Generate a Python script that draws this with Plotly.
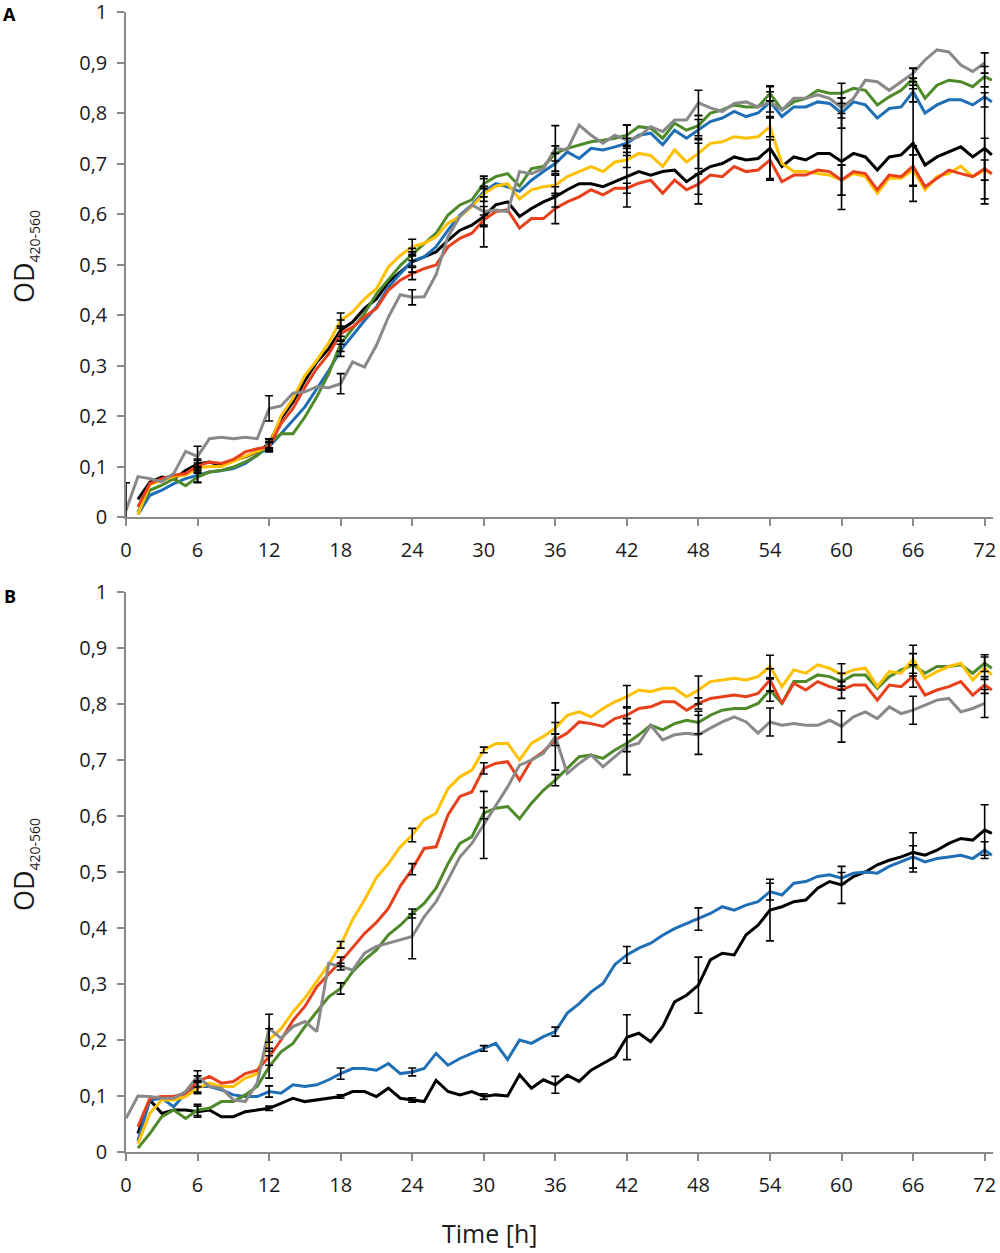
import plotly.graph_objects as go

# time grid (h); the gray series starts at 0 and stops at 72
HOURS = list(range(1, 73)) + [72.6]
GRAY_HOURS = list(range(0, 73))
ERR_HOURS = [0, 6, 12, 18, 24, 30, 36, 42, 48, 54, 60, 66, 72]

# ---- panel A ----
A_BLACK = [0.035, 0.069, 0.079, 0.075, 0.092, 0.105, 0.109, 0.102, 0.112, 0.119, 0.129, 0.145,
           0.195, 0.228, 0.27, 0.307, 0.333, 0.37, 0.386, 0.413, 0.432, 0.465, 0.485, 0.505,
           0.515, 0.525, 0.548, 0.568, 0.578, 0.595, 0.618, 0.624, 0.595, 0.611, 0.624, 0.634,
           0.648, 0.66, 0.66, 0.654, 0.664, 0.674, 0.684, 0.677, 0.684, 0.687, 0.664, 0.68,
           0.694, 0.70, 0.713, 0.707, 0.71, 0.73, 0.694, 0.713, 0.707, 0.72, 0.72, 0.704,
           0.72, 0.713, 0.687, 0.713, 0.717, 0.74, 0.697, 0.713, 0.723, 0.733, 0.713, 0.73, 0.717]
A_BLUE = [0.005, 0.043, 0.053, 0.066, 0.076, 0.083, 0.089, 0.092, 0.096, 0.106, 0.122, 0.139,
          0.165, 0.191, 0.218, 0.254, 0.29, 0.33, 0.36, 0.389, 0.416, 0.455, 0.482, 0.507,
          0.515, 0.535, 0.568, 0.598, 0.618, 0.644, 0.66, 0.654, 0.645, 0.667, 0.684, 0.70,
          0.723, 0.71, 0.73, 0.727, 0.733, 0.74, 0.756, 0.76, 0.737, 0.766, 0.75, 0.767,
          0.783, 0.79, 0.803, 0.793, 0.80, 0.822, 0.793, 0.812, 0.812, 0.822, 0.819, 0.80,
          0.822, 0.816, 0.79, 0.809, 0.812, 0.842, 0.80, 0.816, 0.826, 0.826, 0.816, 0.832, 0.822]
A_GREEN = [0.01, 0.053, 0.063, 0.076, 0.062, 0.079, 0.089, 0.092, 0.099, 0.109, 0.122, 0.145,
           0.165, 0.165, 0.198, 0.238, 0.284, 0.343, 0.373, 0.403, 0.442, 0.469, 0.498, 0.52,
           0.542, 0.562, 0.598, 0.618, 0.628, 0.66, 0.674, 0.68, 0.655, 0.69, 0.694, 0.72,
           0.73, 0.737, 0.743, 0.746, 0.75, 0.756, 0.773, 0.77, 0.75, 0.78, 0.766, 0.775,
           0.80, 0.806, 0.816, 0.812, 0.812, 0.839, 0.806, 0.822, 0.829, 0.845, 0.839, 0.839,
           0.849, 0.845, 0.816, 0.832, 0.845, 0.868, 0.829, 0.855, 0.865, 0.862, 0.852, 0.872, 0.865]
A_YELLOW = [0.005, 0.065, 0.072, 0.08, 0.083, 0.097, 0.1, 0.1, 0.11, 0.12, 0.13, 0.14,
            0.2, 0.235, 0.28, 0.31, 0.345, 0.389, 0.406, 0.432, 0.452, 0.495, 0.518, 0.535,
            0.542, 0.555, 0.582, 0.595, 0.615, 0.64, 0.655, 0.66, 0.63, 0.648, 0.654, 0.657,
            0.674, 0.684, 0.694, 0.684, 0.703, 0.707, 0.72, 0.716, 0.694, 0.727, 0.703, 0.72,
            0.74, 0.743, 0.753, 0.75, 0.753, 0.773, 0.70, 0.684, 0.684, 0.68, 0.677, 0.667,
            0.68, 0.674, 0.641, 0.671, 0.671, 0.687, 0.648, 0.674, 0.68, 0.695, 0.674, 0.687, 0.68]
A_RED = [0.02, 0.066, 0.076, 0.083, 0.086, 0.102, 0.109, 0.106, 0.114, 0.129, 0.135, 0.139,
         0.185, 0.215, 0.257, 0.294, 0.323, 0.363, 0.376, 0.396, 0.413, 0.449, 0.469, 0.482,
         0.492, 0.499, 0.535, 0.552, 0.562, 0.588, 0.605, 0.608, 0.572, 0.591, 0.591, 0.611,
         0.624, 0.634, 0.648, 0.638, 0.651, 0.651, 0.661, 0.667, 0.641, 0.667, 0.648, 0.659,
         0.677, 0.674, 0.694, 0.684, 0.687, 0.707, 0.664, 0.677, 0.677, 0.687, 0.684, 0.667,
         0.684, 0.68, 0.648, 0.677, 0.674, 0.695, 0.654, 0.671, 0.687, 0.68, 0.674, 0.69, 0.68]
A_GRAY = [0.013, 0.08, 0.076, 0.07, 0.086, 0.13, 0.12, 0.155, 0.158, 0.155, 0.158, 0.155,
          0.215, 0.22, 0.245, 0.248, 0.258, 0.256, 0.264, 0.307, 0.297, 0.34, 0.396, 0.44,
          0.435, 0.436, 0.48, 0.555, 0.595, 0.618, 0.605, 0.608, 0.605, 0.684, 0.68, 0.69,
          0.73, 0.727, 0.776, 0.756, 0.74, 0.756, 0.746, 0.753, 0.773, 0.763, 0.786, 0.786,
          0.82, 0.81, 0.803, 0.819, 0.822, 0.812, 0.822, 0.806, 0.829, 0.829, 0.836, 0.829,
          0.81, 0.829, 0.865, 0.862, 0.845, 0.862, 0.879, 0.905, 0.925, 0.921, 0.895, 0.882, 0.899]

A_BLACK_ERR = [None, 0.01, 0.008, 0.02, 0.02, 0.02, 0.02, 0.06, 0.06, 0.06, 0.095, 0.115, 0.11]
A_BLUE_ERR = [None, 0.015, 0.008, 0.012, 0.01, 0.01, 0.02, 0.01, 0.02, 0.02, 0.03, 0.02, 0.02]
A_GREEN_ERR = [None, 0.01, 0.01, 0.015, 0.012, 0.01, 0.015, 0.02, 0.02, 0.015, 0.02, 0.02, 0.02]
A_YELLOW_ERR = [None, 0.01, 0.008, 0.015, 0.015, 0.015, 0.02, 0.015, 0.03, 0.02, 0.03, 0.03, 0.02]
A_RED_ERR = [None, 0.01, 0.01, 0.015, 0.012, 0.01, 0.03, 0.01, 0.02, 0.04, 0.03, 0.04, 0.06]
A_GRAY_ERR = [0.055, 0.02, 0.025, 0.02, 0.015, 0.07, 0.045, 0.03, 0.025, 0.03, 0.02, 0.01, 0.02]

# ---- panel B ----
B_BLACK = [0.033, 0.093, 0.069, 0.075, 0.075, 0.072, 0.075, 0.063, 0.063, 0.072, 0.075, 0.078,
           0.087, 0.096, 0.09, 0.093, 0.096, 0.099, 0.108, 0.108, 0.099, 0.114, 0.096, 0.093,
           0.09, 0.128, 0.108, 0.102, 0.108, 0.099, 0.102, 0.1, 0.138, 0.114, 0.129, 0.12,
           0.137, 0.126, 0.146, 0.158, 0.17, 0.205, 0.212, 0.197, 0.224, 0.268, 0.28, 0.298,
           0.343, 0.355, 0.352, 0.388, 0.405, 0.432, 0.438, 0.447, 0.45, 0.471, 0.483, 0.477,
           0.492, 0.5, 0.513, 0.521, 0.527, 0.535, 0.53, 0.539, 0.551, 0.56, 0.557, 0.575, 0.569]
B_BLUE = [0.02, 0.093, 0.096, 0.081, 0.105, 0.117, 0.117, 0.111, 0.102, 0.099, 0.099, 0.108,
          0.105, 0.12, 0.117, 0.12, 0.129, 0.14, 0.149, 0.149, 0.146, 0.158, 0.14, 0.143,
          0.149, 0.176, 0.155, 0.167, 0.176, 0.185, 0.194, 0.165, 0.2, 0.194, 0.206, 0.215,
          0.248, 0.265, 0.286, 0.301, 0.335, 0.352, 0.364, 0.373, 0.387, 0.399, 0.408, 0.416,
          0.426, 0.438, 0.432, 0.441, 0.447, 0.465, 0.459, 0.48, 0.483, 0.492, 0.495, 0.489,
          0.498, 0.5, 0.498, 0.51, 0.518, 0.527, 0.518, 0.524, 0.527, 0.53, 0.524, 0.539, 0.53]
B_GREEN = [0.007, 0.033, 0.063, 0.075, 0.06, 0.075, 0.078, 0.09, 0.09, 0.102, 0.117, 0.152,
           0.179, 0.194, 0.224, 0.251, 0.277, 0.292, 0.322, 0.343, 0.361, 0.388, 0.405, 0.426,
           0.444, 0.471, 0.515, 0.551, 0.563, 0.605, 0.614, 0.617, 0.595, 0.623, 0.646, 0.664,
           0.685, 0.706, 0.709, 0.703, 0.718, 0.73, 0.745, 0.762, 0.754, 0.765, 0.771, 0.767,
           0.78, 0.789, 0.792, 0.792, 0.801, 0.825, 0.801, 0.84, 0.84, 0.852, 0.849, 0.84,
           0.852, 0.852, 0.828, 0.849, 0.861, 0.87, 0.855, 0.867, 0.867, 0.87, 0.855, 0.873, 0.864]
B_YELLOW = [0.015, 0.069, 0.093, 0.093, 0.099, 0.114, 0.123, 0.117, 0.117, 0.132, 0.14, 0.2,
            0.22, 0.25, 0.275, 0.305, 0.335, 0.37, 0.415, 0.45, 0.49, 0.515, 0.545, 0.566,
            0.593, 0.605, 0.649, 0.67, 0.682, 0.718, 0.729, 0.73, 0.70, 0.73, 0.742, 0.757,
            0.78, 0.786, 0.777, 0.792, 0.804, 0.813, 0.825, 0.822, 0.828, 0.828, 0.813, 0.825,
            0.84, 0.843, 0.846, 0.843, 0.849, 0.867, 0.831, 0.861, 0.855, 0.87, 0.864, 0.852,
            0.861, 0.864, 0.831, 0.858, 0.855, 0.88, 0.846, 0.858, 0.867, 0.873, 0.843, 0.864, 0.852]
B_RED = [0.045, 0.096, 0.099, 0.099, 0.105, 0.126, 0.135, 0.123, 0.126, 0.14, 0.146, 0.17,
         0.2, 0.235, 0.26, 0.295, 0.318, 0.34, 0.365, 0.39, 0.41, 0.435, 0.475, 0.505,
         0.542, 0.545, 0.602, 0.635, 0.643, 0.685, 0.694, 0.697, 0.664, 0.70, 0.715, 0.736,
         0.748, 0.768, 0.765, 0.76, 0.774, 0.78, 0.792, 0.795, 0.804, 0.804, 0.789, 0.801,
         0.81, 0.813, 0.816, 0.813, 0.819, 0.843, 0.801, 0.837, 0.825, 0.84, 0.831, 0.825,
         0.834, 0.834, 0.807, 0.834, 0.831, 0.85, 0.816, 0.825, 0.831, 0.84, 0.816, 0.834, 0.825]
B_GRAY = [0.06, 0.1, 0.099, 0.096, 0.096, 0.108, 0.135, 0.117, 0.114, 0.093, 0.09, 0.123,
          0.221, 0.203, 0.224, 0.233, 0.215, 0.337, 0.331, 0.325, 0.355, 0.367, 0.373, 0.379,
          0.385, 0.42, 0.447, 0.486, 0.527, 0.551, 0.584, 0.617, 0.652, 0.691, 0.70, 0.712,
          0.742, 0.676, 0.694, 0.709, 0.688, 0.706, 0.724, 0.73, 0.762, 0.736, 0.745, 0.748,
          0.745, 0.757, 0.768, 0.777, 0.768, 0.748, 0.768, 0.762, 0.765, 0.762, 0.762, 0.771,
          0.76, 0.777, 0.786, 0.774, 0.795, 0.783, 0.789, 0.798, 0.807, 0.81, 0.786, 0.792, 0.801]

B_BLACK_ERR = [None, 0.01, 0.004, 0.003, 0.004, 0.005, 0.015, 0.04, 0.05, 0.055, 0.033, 0.035, 0.045]
B_BLUE_ERR = [None, 0.01, 0.01, 0.01, 0.007, 0.005, 0.008, 0.015, 0.02, 0.015, 0.01, 0.02, 0.015]
B_GREEN_ERR = [None, 0.01, 0.02, 0.01, 0.008, 0.01, 0.01, 0.015, 0.02, 0.02, 0.015, 0.02, 0.015]
B_YELLOW_ERR = [None, 0.01, 0.02, 0.006, 0.012, 0.005, 0.01, 0.02, 0.025, 0.02, 0.02, 0.025, 0.02]
B_RED_ERR = [None, 0.01, 0.015, 0.008, 0.01, 0.01, 0.01, 0.015, 0.01, 0.02, 0.015, 0.02, 0.015]
B_GRAY_ERR = [None, 0.01, 0.025, 0.006, 0.04, 0.06, 0.06, 0.05, 0.035, 0.025, 0.028, 0.025, 0.025]

COLORS = ['#000000', '#1f6fb6', '#4e8a2a', '#ffc000', '#e8401c', '#898989']
FONT = 'Open Sans'
AXIS_GRAY = '#8a8a8a'

# plot area sits between margin l=126, r=7, t=12, b=101 (1000 x 1253 page)
DOMAIN_A = [0.557, 1.0]
DOMAIN_B = [0.0, 0.4912]


def add_panel(fig, series, errors, xa, ya):
    for (hours, vals), color in zip(series, COLORS):
        fig.add_trace(go.Scatter(x=hours, y=vals, mode='lines',
                                 line=dict(color=color, width=3),
                                 xaxis=xa, yaxis=ya, hoverinfo='skip', showlegend=False))
    # error bars, drawn above the lines
    for (hours, vals), err in zip(series, errors):
        lookup = dict(zip(hours, vals))
        xs, ys, es = [], [], []
        for h, e in zip(ERR_HOURS, err):
            if e is None:
                continue
            xs.append(h)
            ys.append(lookup[h])
            es.append(e)
        fig.add_trace(go.Scatter(x=xs, y=ys, mode='markers',
                                 marker=dict(size=2, color='rgba(0,0,0,0)'),
                                 error_y=dict(type='data', array=es, color='black',
                                              thickness=1.6, width=4),
                                 xaxis=xa, yaxis=ya, hoverinfo='skip', showlegend=False))


fig = go.Figure()

series_a = [(HOURS, A_BLACK), (HOURS, A_BLUE), (HOURS, A_GREEN),
            (HOURS, A_YELLOW), (HOURS, A_RED), (GRAY_HOURS, A_GRAY)]
errors_a = [A_BLACK_ERR, A_BLUE_ERR, A_GREEN_ERR, A_YELLOW_ERR, A_RED_ERR, A_GRAY_ERR]
series_b = [(HOURS, B_BLACK), (HOURS, B_BLUE), (HOURS, B_GREEN),
            (HOURS, B_YELLOW), (HOURS, B_RED), (GRAY_HOURS, B_GRAY)]
errors_b = [B_BLACK_ERR, B_BLUE_ERR, B_GREEN_ERR, B_YELLOW_ERR, B_RED_ERR, B_GRAY_ERR]

add_panel(fig, series_a, errors_a, 'x', 'y')
add_panel(fig, series_b, errors_b, 'x2', 'y2')

axis_common = dict(showline=True, linecolor=AXIS_GRAY, linewidth=1.5,
                   ticks='outside', tickcolor=AXIS_GRAY, ticklen=7, tickwidth=1.5,
                   showgrid=False, zeroline=False, automargin=False,
                   ticklabeloverflow='allow',
                   tickfont=dict(family=FONT, size=20, color='#1a1a1a'))

fig.update_layout(
    width=1000,
    height=1253,
    margin=dict(l=126, r=7, t=12, b=101),
    plot_bgcolor='white',
    paper_bgcolor='white',
    separators=',.',
    showlegend=False,
    font=dict(family=FONT, size=20, color='#1a1a1a'),
    xaxis=dict(axis_common, range=[0, 72.7], tick0=0, dtick=6, anchor='y',
               ticklabelstandoff=7),
    yaxis=dict(axis_common, range=[0, 1], dtick=0.1, domain=DOMAIN_A, anchor='x',
               ticklabelstandoff=6),
    xaxis2=dict(axis_common, range=[0, 72.7], tick0=0, dtick=6, anchor='y2',
                ticklabelstandoff=7),
    yaxis2=dict(axis_common, range=[0, 1], dtick=0.1, domain=DOMAIN_B, anchor='x2',
                ticklabelstandoff=6),
)

od_text = 'OD<sub><span style="font-size:14px">420-560</span></sub>'
annotations = [
    dict(text='<b>A</b>', x=-0.1338, y=0.998, xanchor='center', yanchor='middle',
         font=dict(family=FONT, size=18, color='black')),
    dict(text='<b>B</b>', x=-0.1338, y=0.4877, xanchor='center', yanchor='middle',
         font=dict(family=FONT, size=18, color='black')),
    dict(text=od_text, x=-0.1176, y=(1152 - 257) / 1140,
         xanchor='center', yanchor='middle', textangle=-90,
         font=dict(family=FONT, size=27, color='#1a1a1a')),
    dict(text=od_text, x=-0.1176, y=(1152 - 865) / 1140,
         xanchor='center', yanchor='middle', textangle=-90,
         font=dict(family=FONT, size=27, color='#1a1a1a')),
    dict(text='Time [h]', x=0.4198, y=-0.0711, xanchor='center', yanchor='middle',
         font=dict(family=FONT, size=25, color='#1a1a1a')),
]
for a in annotations:
    a.update(xref='paper', yref='paper', showarrow=False)
fig.update_layout(annotations=annotations)

# the page body has an 8px default margin; drop it so the figure sits at (0, 0)
fig.write_html('out.html',
               config={'displayModeBar': False},
               post_script="document.body.style.margin='0';"
                           "document.body.style.overflow='hidden';")
